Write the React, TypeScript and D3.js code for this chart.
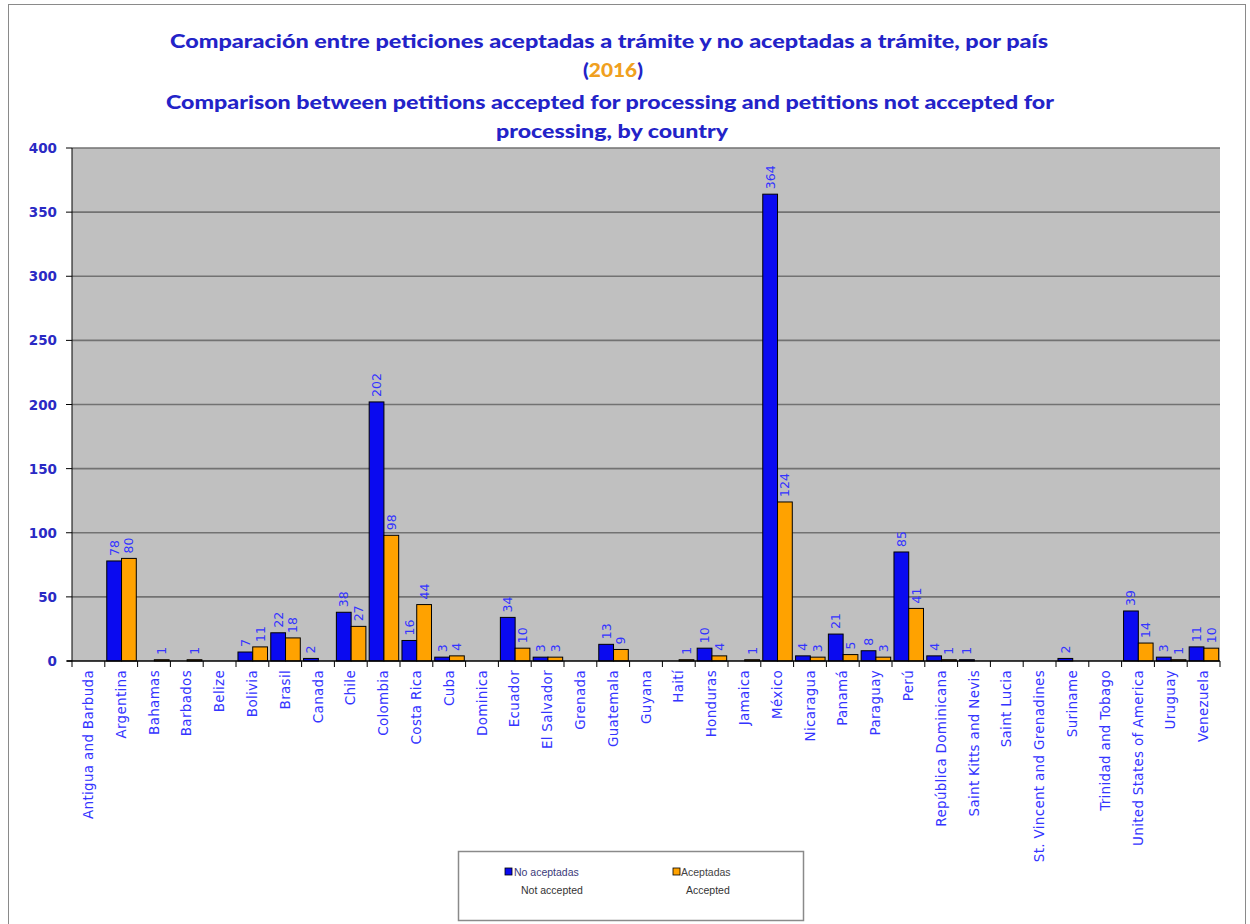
import React from "react";
import * as d3 from "d3";

const countries = [
  "Antigua and Barbuda", "Argentina", "Bahamas", "Barbados", "Belize", "Bolivia", "Brasil",
  "Canada", "Chile", "Colombia", "Costa Rica", "Cuba", "Dominica", "Ecuador", "El Salvador",
  "Grenada", "Guatemala", "Guyana", "Haití", "Honduras", "Jamaica", "México", "Nicaragua",
  "Panamá", "Paraguay", "Perú", "República Dominicana", "Saint Kitts and Nevis", "Saint Lucia",
  "St. Vincent and Grenadines", "Suriname", "Trinidad and Tobago", "United States of America",
  "Uruguay", "Venezuela",
];

// null = no value (no bar, no label)
const noAceptadas: (number | null)[] = [
  null, 78, null, null, null, 7, 22, 2, 38, 202, 16, 3, null, 34, 3,
  null, 13, null, null, 10, null, 364, 4, 21, 8, 85, 4, 1, null,
  null, 2, null, 39, 3, 11,
];
const aceptadas: (number | null)[] = [
  null, 80, 1, 1, null, 11, 18, null, 27, 98, 44, 4, null, 10, 3,
  null, 9, null, 1, 4, 1, 124, 3, 5, 3, 41, 1, null, null,
  null, null, null, 14, 1, 10,
];

const yTicks = [0, 50, 100, 150, 200, 250, 300, 350, 400];
const seriesKeys = ["No aceptadas", "Aceptadas"];
const seriesColors = ["#0a0af0", "#ffa200"];

const W = 1250;
const H = 924;
const plot = { left: 72, right: 1220, top: 148, bottom: 661 };

export default function App() {
  const x = d3.scaleBand<string>().domain(countries).range([plot.left, plot.right]).padding(0);
  const bw = x.bandwidth();
  const x1 = d3.scaleBand<string>().domain(seriesKeys).range([bw * 0.06, bw * 0.96]).padding(0);
  const y = d3.scaleLinear().domain([0, 400]).range([plot.bottom, plot.top]);

  const series = [noAceptadas, aceptadas];
  const tickColor = "#2a2ac4";
  const labelColor = "#3434ff";

  return (
    <svg
      width={W}
      height={H}
      style={{ position: "absolute", left: 0, top: 0, background: "#fff" }}
      fontFamily="'DejaVu Sans', Verdana, sans-serif"
    >
      <rect x={8.5} y={4.5} width={1237} height={925} fill="#fff" stroke="#8a8a8a" strokeWidth={1} />

      {/* Title */}
      <g fontFamily="Lato, 'Open Sans', sans-serif" fontWeight="900" fill="#2323c8" textAnchor="middle">
        <text x={609} y={48} fontSize={19} textLength={878} lengthAdjust="spacingAndGlyphs">
          Comparación entre peticiones aceptadas  a trámite y no aceptadas  a trámite, por país
        </text>
        <text x={613} y={77} fontSize={19} textLength={60} lengthAdjust="spacingAndGlyphs">
          (<tspan fill="#f0a020">2016</tspan>)
        </text>
        <text x={610} y={109} fontSize={19} textLength={888} lengthAdjust="spacingAndGlyphs">
          Comparison between petitions accepted for processing and petitions not accepted for
        </text>
        <text x={612} y={138} fontSize={19} textLength={232} lengthAdjust="spacingAndGlyphs">
          processing, by country
        </text>
      </g>

      {/* Plot background */}
      <rect x={plot.left} y={plot.top} width={plot.right - plot.left} height={plot.bottom - plot.top} fill="#c0c0c0" />

      {/* Gridlines */}
      {yTicks.filter((t) => t > 0).map((t) => (
        <line key={t} x1={plot.left} x2={plot.right} y1={y(t)} y2={y(t)} stroke="#727272" strokeWidth={1.6} />
      ))}

      {/* Bars */}
      {series.map((vals, si) =>
        vals.map((v, i) =>
          v === null ? null : (
            <rect
              key={`${si}-${i}`}
              x={(x(countries[i]) as number) + (x1(seriesKeys[si]) as number)}
              y={y(v)}
              width={x1.bandwidth()}
              height={plot.bottom - y(v)}
              fill={seriesColors[si]}
              stroke="#000"
              strokeWidth={1}
            />
          )
        )
      )}

      {/* Data labels */}
      {series.map((vals, si) =>
        vals.map((v, i) => {
          if (v === null) return null;
          const cx = (x(countries[i]) as number) + (x1(seriesKeys[si]) as number) + x1.bandwidth() / 2 + 4.5;
          const ty = y(v) - 5;
          return (
            <text
              key={`l${si}-${i}`}
              transform={`translate(${cx},${ty}) rotate(-90)`}
              fontSize={12.5}
              fill={labelColor}
              textAnchor="start"
            >
              {v}
            </text>
          );
        })
      )}

      {/* Axes */}
      <line x1={plot.left} x2={plot.left} y1={plot.top} y2={plot.bottom} stroke="#000" strokeWidth={1} />
      <line x1={plot.left - 5} x2={plot.right} y1={plot.bottom} y2={plot.bottom} stroke="#000" strokeWidth={1.5} />
      {yTicks.map((t) => (
        <g key={`yt${t}`}>
          <line x1={plot.left - 6} x2={plot.left} y1={y(t)} y2={y(t)} stroke="#000" strokeWidth={1} />
          <text x={57} y={y(t) + 5} fontSize={13.5} fontWeight="bold" fill={tickColor} textAnchor="end">
            {t}
          </text>
        </g>
      ))}
      {countries.map((c, i) => (
        <line
          key={`xt${i}`}
          x1={(x(c) as number)}
          x2={(x(c) as number)}
          y1={plot.bottom}
          y2={plot.bottom + 6}
          stroke="#000"
          strokeWidth={1}
        />
      ))}
      <line x1={plot.right} x2={plot.right} y1={plot.bottom} y2={plot.bottom + 6} stroke="#000" strokeWidth={1} />
      {countries.map((c) => (
        <text
          key={`xl${c}`}
          transform={`translate(${(x(c) as number) + bw / 2 + 4.5},${plot.bottom + 9}) rotate(-90)`}
          fontSize={13.5}
          letterSpacing={0.3}
          fill={labelColor}
          textAnchor="end"
        >
          {c}
        </text>
      ))}

      {/* Legend */}
      <rect x={458.5} y={851.5} width={345} height={69} fill="#fff" stroke="#8a8a8a" strokeWidth={1.5} />
      <g fontSize={10.5} fontFamily="'Liberation Sans', Arial, sans-serif">
        <rect x={505} y={868} width={7} height={7} fill={seriesColors[0]} stroke="#000" strokeWidth={0.8} />
        <text x={514} y={876} fill="#3a3a7a">No aceptadas</text>
        <text x={521} y={894} fill="#333">Not accepted</text>
        <rect x={673} y={868} width={7} height={7} fill={seriesColors[1]} stroke="#000" strokeWidth={0.8} />
        <text x={681} y={876} fill="#444">Aceptadas</text>
        <text x={686} y={894} fill="#333">Accepted</text>
      </g>
    </svg>
  );
}
